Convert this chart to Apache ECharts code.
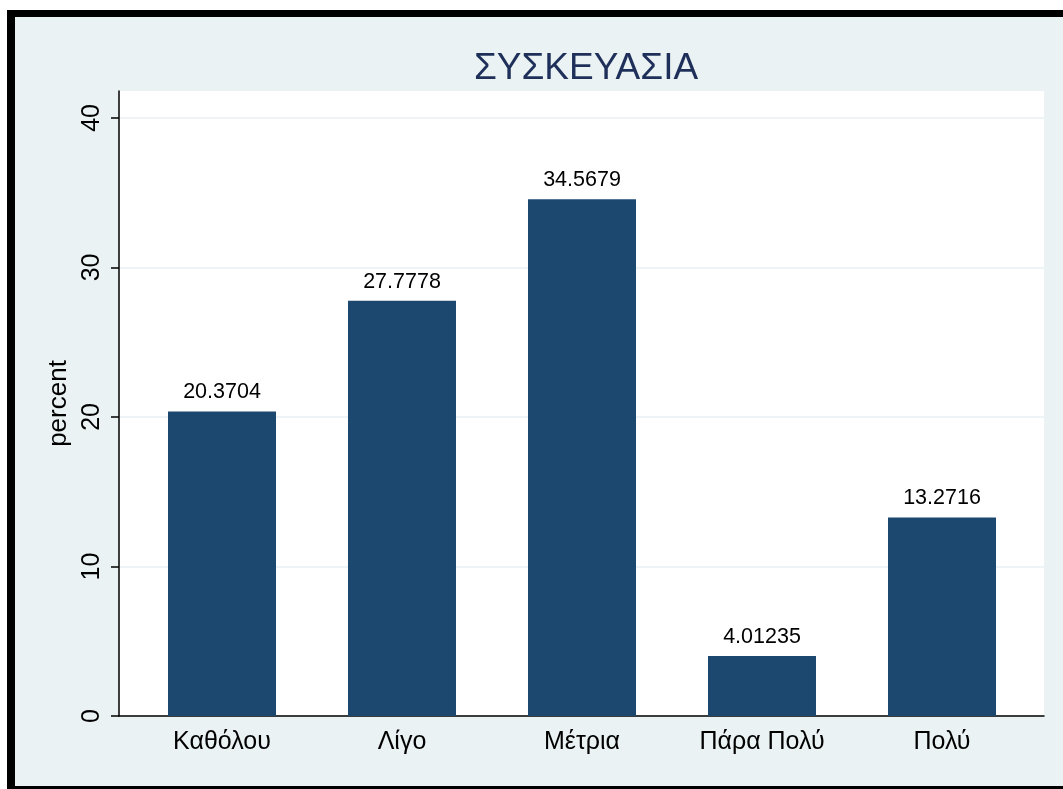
<!DOCTYPE html>
<html>
<head>
<meta charset="utf-8">
<script src="https://cdn.jsdelivr.net/npm/echarts@6/dist/echarts.min.js"></script>
<style>
    html, body { margin: 0; padding: 0; width: 1063px; height: 789px; overflow: hidden; background: #fff; }
    #frame {
        position: absolute; left: 7px; top: 10px; width: 1100px; height: 779px;
        box-sizing: border-box; background: #EAF2F3;
        border-left: 8px solid #000; border-top: 7px solid #000; border-bottom: 3px solid #000;
    }
    #main { position: absolute; left: 0; top: 0; width: 1063px; height: 789px; }
</style>
</head>
<body>
<div id="frame"></div>
<div id="main"></div>
<script>
var categories = ['Καθόλου', 'Λίγο', 'Μέτρια', 'Πάρα Πολύ', 'Πολύ'];
var percents = [20.3704, 27.7778, 34.5679, 4.01235, 13.2716];
var yTicks = [0, 10, 20, 30, 40];

var font = 'Liberation Sans, Arial, sans-serif';
var myChart = echarts.init(document.getElementById('main'));

var data = [];
for (var i = 0; i < percents.length; i++) {
    data.push([i + 1, percents[i]]);
}

var option = {
    backgroundColor: 'transparent',
    animation: false,
    title: {
        text: 'ΣΥΣΚΕΥΑΣΙΑ',
        left: 581,
        top: 45,
        textAlign: 'center',
        textStyle: { fontFamily: font, fontSize: 37, fontWeight: 'normal', color: '#1E2F5A' }
    },
    grid: {
        left: 119, right: 19, top: 91, bottom: 73,
        show: true, backgroundColor: '#fff', borderWidth: 0
    },
    xAxis: {
        type: 'value',
        min: 0.4278,
        max: 5.5667,
        splitLine: { show: false },
        axisTick: { show: false },
        axisLine: { show: true, onZero: false, lineStyle: { color: '#000', width: 1.5 } },
        axisLabel: {
            customValues: [1, 2, 3, 4, 5],
            formatter: function (v) { return categories[Math.round(v) - 1] || ''; },
            margin: 14,
            fontFamily: font, fontSize: 25, color: '#000'
        }
    },
    yAxis: {
        type: 'value',
        min: 0,
        max: 41.8,
        interval: 10,
        name: 'percent',
        nameLocation: 'middle',
        nameRotate: 90,
        nameGap: 43,
        nameTextStyle: { fontFamily: font, fontSize: 26, color: '#000' },
        axisLine: { show: true, lineStyle: { color: '#000', width: 1.5 } },
        axisTick: { show: true, length: 8, customValues: yTicks, lineStyle: { color: '#000', width: 1.5 } },
        axisLabel: {
            customValues: yTicks,
            rotate: 90,
            margin: 14,
            fontFamily: font, fontSize: 25, color: '#000'
        },
        splitLine: { show: true, lineStyle: { color: '#EAF2F3', width: 1.5 } }
    },
    series: [{
        type: 'bar',
        data: data,
        barWidth: 108,
        itemStyle: { color: '#1C4870' },
        label: {
            show: true,
            position: 'top',
            distance: 8,
            formatter: function (p) { return String(p.value[1]); },
            fontFamily: font, fontSize: 21.5, color: '#000'
        }
    }]
};
myChart.setOption(option);
window.onresize = function () {
    myChart.resize();
};
</script>
</body>
</html>
